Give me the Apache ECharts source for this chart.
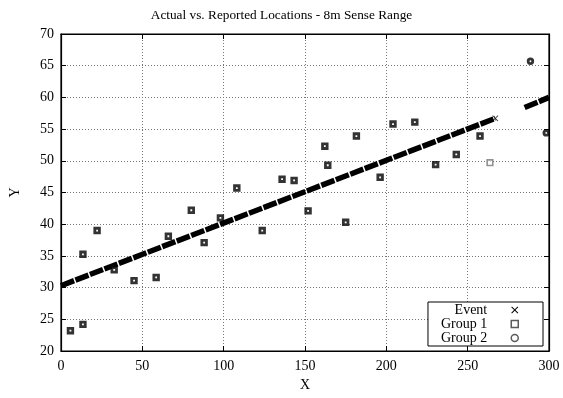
<!DOCTYPE html>
<html>
<head>
<meta charset="utf-8">
<script src="https://cdn.jsdelivr.net/npm/echarts@6/dist/echarts.min.js"></script>
<style>
html,body{margin:0;padding:0;background:#fff;}
#chart{width:563px;height:398px;}
</style>
</head>
<body>
<div id="chart"></div>
<script>
// ---- data ----
var titleText = 'Actual vs. Reported Locations - 8m Sense Range';
var xTicks = [0, 50, 100, 150, 200, 250, 300];
var yTicks = [20, 25, 30, 35, 40, 45, 50, 55, 60, 65, 70];

// Event track (dense x markers rendered as a thick dashed band), two visible runs
var eventRun1X = [0, 267];
var eventRun1Y = [30.3, 56.7];
var eventRun2X = [285, 300];
var eventRun2Y = [58.4, 60.0];

var group1X = [5.8, 13.5, 13.5, 22.2, 32.7, 44.9, 58.5, 66.0, 80.1, 88.0, 98.0, 108.1, 123.7, 135.9, 143.3, 151.9, 162.2, 164.0, 175.0, 181.6, 196.2, 204.1, 217.5, 230.3, 243.0, 257.6, 263.7];
var group1Y = [23.2, 24.2, 35.25, 39.0, 32.8, 31.1, 31.6, 38.1, 42.2, 37.1, 41.0, 45.7, 39.0, 47.1, 46.9, 42.1, 52.3, 49.3, 40.3, 53.9, 47.4, 55.8, 56.1, 49.4, 51.0, 53.9, 49.7];
// reports drawn only once (lighter) vs. overlapping (dark)
var group1Light = [false, false, false, false, false, false, false, false, false, false, false, false, false, false, false, false, false, false, false, false, false, false, false, false, false, false, true];

var group2X = [288.6, 298.3];
var group2Y = [65.7, 54.4];

function zip(xs, ys) { return xs.map(function (x, i) { return [x, ys[i]]; }); }

var serif = '"Liberation Serif", "DejaVu Serif", serif';
var xIconPath = 'path://M0,1L1,0L5,4L9,0L10,1L6,5L10,9L9,10L5,6L1,10L0,9L4,5Z';

var chart = echarts.init(document.getElementById('chart'), null, {renderer: 'canvas'});

var gridLine = {show: true, lineStyle: {color: '#777', type: [1, 2], width: 1}};

var group1Data = group1X.map(function (x, i) {
  var item = {value: [x, group1Y[i]]};
  if (group1Light[i]) {
    item.itemStyle = {color: '#fff', borderColor: '#777', borderWidth: 1.6};
    item.symbolSize = 5.6;
  }
  return item;
});

var option = {
  animation: false,
  backgroundColor: '#fff',
  title: {
    text: titleText,
    left: 'center',
    top: 4,
    textStyle: {fontFamily: serif, fontSize: 13.3, fontWeight: 'normal', color: '#000'}
  },
  grid: {
    left: 55.5, right: 14, top: 34, bottom: 47,
    show: true, borderColor: '#000', borderWidth: 1.2
  },
  legend: {
    orient: 'vertical',
    align: 'right',
    right: 20,
    bottom: 52,
    itemWidth: 7,
    itemHeight: 7,
    itemGap: 0,
    padding: [1, 24, 1, 13],
    backgroundColor: '#fff',
    borderColor: '#000',
    borderWidth: 1,
    textStyle: {fontFamily: serif, fontSize: 14, color: '#000', lineHeight: 13.5, padding: [0, 19, 0, 0]},
    data: [
      {name: 'Event', icon: xIconPath, itemStyle: {color: '#000', borderWidth: 0}},
      {name: 'Group 1', icon: 'rect', itemStyle: {color: '#fff', borderColor: '#333', borderWidth: 1.5}},
      {name: 'Group 2', icon: 'circle', itemStyle: {color: '#fff', borderColor: '#333', borderWidth: 1.5}}
    ]
  },
  xAxis: [{
    type: 'value',
    min: 0, max: 300, interval: 50,
    name: 'X',
    nameLocation: 'middle',
    nameGap: 26,
    nameTextStyle: {fontFamily: serif, fontSize: 14, color: '#000'},
    axisLine: {show: true, onZero: false, lineStyle: {color: '#000', width: 1.2}},
    axisTick: {show: true, inside: true, length: 5, lineStyle: {color: '#000'}},
    axisLabel: {fontFamily: serif, fontSize: 14, color: '#000', margin: 8},
    splitLine: gridLine
  }, {
    type: 'value', position: 'top',
    min: 0, max: 300, interval: 50,
    axisLine: {show: true, onZero: false, lineStyle: {color: '#000', width: 1.2}},
    axisTick: {show: true, inside: true, length: 5, lineStyle: {color: '#000'}},
    axisLabel: {show: false},
    splitLine: {show: false}
  }],
  yAxis: [{
    type: 'value',
    min: 20, max: 70, interval: 5,
    name: 'Y',
    nameLocation: 'middle',
    nameGap: 39,
    nameRotate: 90,
    nameTextStyle: {fontFamily: serif, fontSize: 14, color: '#000'},
    axisLine: {show: true, onZero: false, lineStyle: {color: '#000', width: 1.2}},
    axisTick: {show: true, inside: true, length: 5, lineStyle: {color: '#000'}},
    axisLabel: {fontFamily: serif, fontSize: 14, color: '#000', margin: 7},
    splitLine: gridLine
  }, {
    type: 'value', position: 'right',
    min: 20, max: 70, interval: 5,
    axisLine: {show: true, onZero: false, lineStyle: {color: '#000', width: 1.2}},
    axisTick: {show: true, inside: true, length: 5, lineStyle: {color: '#000'}},
    axisLabel: {show: false},
    splitLine: {show: false}
  }],
  series: [
    {
      name: 'Event', type: 'line',
      data: zip(eventRun1X, eventRun1Y),
      showSymbol: false, symbol: 'none',
      clip: true,
      lineStyle: {color: '#000', width: 5.5, type: [14, 1.5], cap: 'butt'},
      itemStyle: {color: '#000'},
      z: 3
    },
    {
      name: 'Event', type: 'line',
      data: zip(eventRun2X, eventRun2Y),
      showSymbol: false, symbol: 'none',
      clip: true,
      lineStyle: {color: '#000', width: 5.5, type: [14, 1.5], cap: 'butt'},
      itemStyle: {color: '#000'},
      z: 3
    },
    {
      name: 'Event', type: 'scatter',
      data: [[eventRun1X[1], eventRun1Y[1]]],
      symbol: xIconPath, symbolSize: 6,
      itemStyle: {color: '#000'},
      z: 3
    },
    {
      name: 'Group 1', type: 'scatter',
      data: group1Data,
      symbol: 'rect', symbolSize: 4.6,
      itemStyle: {color: '#fff', borderColor: '#000', borderWidth: 2.8},
      z: 4
    },
    {
      name: 'Group 2', type: 'scatter',
      data: zip(group2X, group2Y),
      symbol: 'circle', symbolSize: 4.6,
      itemStyle: {color: '#fff', borderColor: '#000', borderWidth: 2.8},
      z: 4
    }
  ]
};
chart.setOption(option);
</script>
</body>
</html>
